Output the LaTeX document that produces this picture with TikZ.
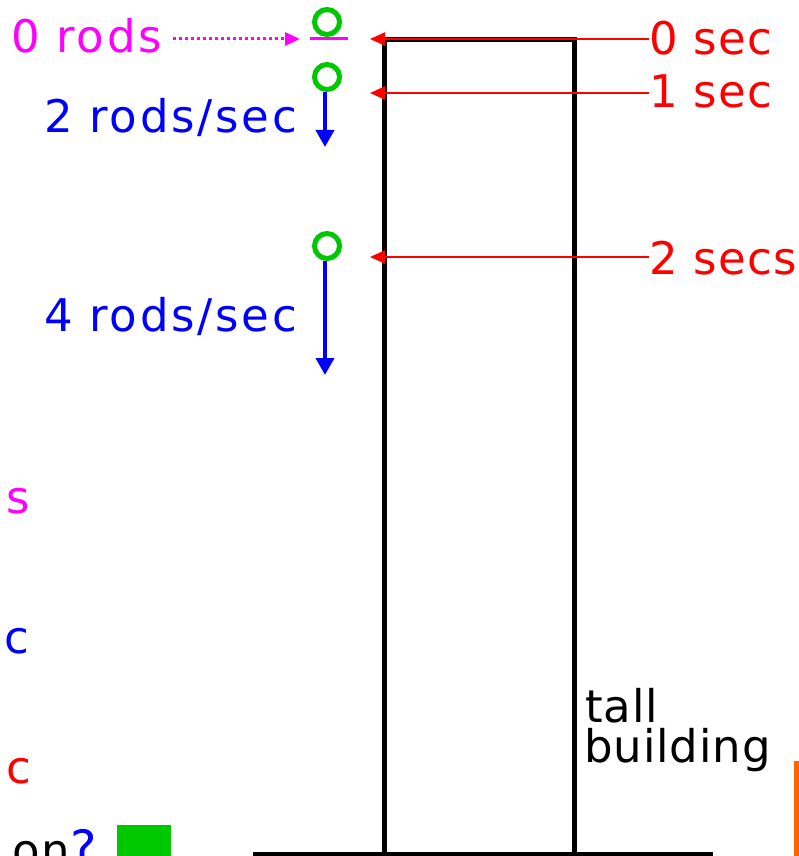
\documentclass[tikz,border=0pt]{standalone}
\usepackage{fontspec}
\setmainfont{DejaVu Sans}
\newfontfamily\wideA[LetterSpace=6]{DejaVu Sans}
\newfontfamily\wideB[LetterSpace=3]{DejaVu Sans}
\newfontfamily\wideC[LetterSpace=2]{DejaVu Sans}
\usetikzlibrary{arrows.meta}
\definecolor{mag}{RGB}{255,0,255}
\definecolor{blu}{RGB}{0,0,255}
\definecolor{rd}{RGB}{255,0,0}
\definecolor{grn}{RGB}{0,200,0}
\definecolor{orng}{RGB}{255,102,0}
\tikzset{
  txt/.style={inner sep=0pt, font=\fontsize{45}{40}\selectfont},
  txta/.style={inner sep=0pt, font=\wideA\fontsize{45}{40}\selectfont},
  txtb/.style={inner sep=0pt, font=\wideB\fontsize{45}{40}\selectfont},
  txtc/.style={inner sep=0pt, font=\wideC\fontsize{45}{40}\selectfont},
  wall/.style={draw=black, line width=5pt},
  timearrow/.style={draw=rd, line width=2pt, -{Triangle[length=15pt,width=13pt]}},
  velarrow/.style={draw=blu, line width=4pt, -{Triangle[length=17pt,width=18pt]}},
  ball/.style={circle, draw=grn, line width=5pt, minimum size=25pt, inner sep=0pt},
  dotarrow/.style={draw=mag, line width=3pt, dash pattern=on 3pt off 3pt, -{Triangle[length=15pt,width=13pt]}},
}
\begin{document}
\begin{tikzpicture}[x=1pt,y=-1pt]
\useasboundingbox (0,0) rectangle (799,856);
% building
\coordinate (bl) at (384,856);
\coordinate (tl) at (384,40);
\coordinate (tr) at (574,40);
\coordinate (br) at (574,856);
\draw[wall, line join=miter] (bl) -- (tl) -- (tr) -- (br);
\coordinate (g1) at (253,854);
\coordinate (g2) at (713,854);
\draw[wall] (g1) -- (g2);
\coordinate (o1) at (796,761);
\coordinate (o2) at (796,860);
\draw[draw=orng, line width=5pt] (o1) -- (o2);
% time labels
\node[txtb, text=rd, anchor=base west] (t0) at (649,55) {0 sec};
\node[txtb, text=rd, anchor=base west] (t1) at (649,108) {1 sec};
\node[txtb, text=rd, anchor=base west] (t2) at (649,274) {2 secs};
\coordinate (r0) at (370,39);
\coordinate (r1) at (370,93);
\coordinate (r2) at (370,257);
\draw[timearrow] (t0.west |- r0) -- (r0);
\draw[timearrow] (t1.west |- r1) -- (r1);
\draw[timearrow] (t2.west |- r2) -- (r2);
% balls
\node[ball] (b0) at (327,22) {};
\node[ball] (b1) at (327,77) {};
\node[ball] (b2) at (327,246) {};
\coordinate (m1) at (310,39);
\coordinate (m2) at (348,39);
\draw[draw=mag, line width=3pt] (m1) -- (m2);
\node[txta, text=mag, anchor=base west] (l0) at (11,53) {0 rods};
\coordinate (d1) at (300,39);
\coordinate (d0) at (173,39);
\draw[dotarrow] (d0) -- (d1);
\coordinate (v1) at (325,147);
\coordinate (v2) at (325,375);
\draw[velarrow] (b1.south -| v1) -- (v1);
\draw[velarrow] (b2.south -| v2) -- (v2);
\node[txta, text=blu, anchor=base west] (l1) at (44,132) {2 rods/sec};
\node[txta, text=blu, anchor=base west] (l2) at (44,331) {4 rods/sec};
% cut-off texts at left
\node[txt, text=mag, anchor=base east] (s1) at (30,513) {s};
\node[txt, text=blu, anchor=base east] (s2) at (29,653) {c};
\node[txt, text=rd, anchor=base east] (s3) at (31,783) {c};
\node[txtc, text=black, anchor=base east] (q1) at (70,866) {on};
\node[txtc, text=blu, anchor=base west, font=\wideC\fontsize{50}{40}\selectfont] (q2) at (q1.base east) {?};
\node[fill=grn, minimum width=54pt, minimum height=54pt, inner sep=0pt, anchor=north west] (sq) at (117,825) {};
% building label
\node[txtc, text=black, anchor=base west] (tb1) at (585,722) {tall};
\node[txtc, text=black, anchor=base west] (tb2) at (584,762) {building};
\end{tikzpicture}
\end{document}
